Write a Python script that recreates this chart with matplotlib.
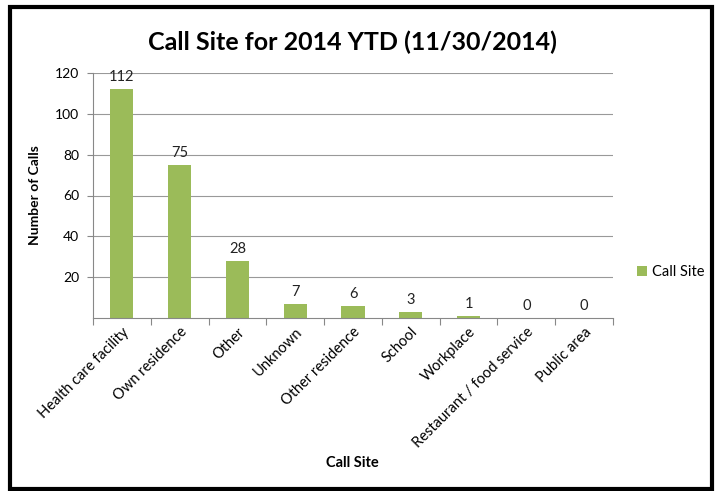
import matplotlib.pyplot as plt
import numpy as np
from matplotlib.patches import Rectangle

# chart data
sites = ['Health care facility', 'Own residence', 'Other', 'Unknown',
         'Other residence', 'School', 'Workplace',
         'Restaurant / food service', 'Public area']
calls = [112, 75, 28, 7, 6, 3, 1, 0, 0]
y_ticks = [20, 40, 60, 80, 100, 120]

plt.rcParams['font.family'] = ['Lato', 'DejaVu Sans']

fig = plt.figure(figsize=(7.17, 4.91), dpi=100)
ax = fig.add_axes([93 / 717, 1 - 318 / 491, 520 / 717, 245 / 491])

x = np.arange(len(sites))
bars = ax.bar(x, calls, width=0.4, color='#9BBB59', label='Call Site', zorder=2)

for b, v in zip(bars, calls):
    ax.text(b.get_x() + b.get_width() / 2, v + 2.5, str(v), ha='center',
            va='bottom', fontsize=10.5, color='#222222')

ax.set_xlim(-0.5, len(sites) - 0.5)
ax.set_ylim(0, 120)
ax.set_yticks(y_ticks)
ax.tick_params(axis='y', labelsize=10, length=4, color='#888888', pad=6)
ax.yaxis.grid(True, color='#999999', linewidth=0.8, zorder=0)

# category ticks sit between the bars
ax.set_xticks(np.arange(len(sites) + 1) - 0.5, minor=False)
ax.set_xticklabels([])
ax.tick_params(axis='x', length=5, color='#888888')
ax.set_xticks(x, minor=True)
ax.set_xticklabels(sites, minor=True, rotation=45, ha='right',
                   rotation_mode='anchor', fontsize=10.5)
ax.tick_params(axis='x', which='minor', length=0, pad=5)

for s in ['top', 'right']:
    ax.spines[s].set_visible(False)
ax.spines['left'].set_color('#888888')
ax.spines['bottom'].set_color('#888888')

ax.set_ylabel('Number of Calls', fontsize=10, fontweight='bold', labelpad=10)
fig.text(352 / 717, 1 - 463 / 491, 'Call Site', ha='center', va='center',
         fontsize=10.5, fontweight='bold')
fig.text(352 / 717, 1 - 42 / 491, 'Call Site for 2014 YTD (11/30/2014)',
         ha='center', va='center', fontsize=18, fontweight='bold')

fig.legend(loc='center left', bbox_to_anchor=(624 / 717, 1 - 272 / 491),
           frameon=False, fontsize=10.5, handlelength=0.7, handleheight=0.7,
           handletextpad=0.3)

# outer frame
fig.patches.append(Rectangle((10 / 717, 1 - 489 / 491), 702 / 717, 482 / 491,
                             transform=fig.transFigure, fill=False,
                             edgecolor='black', linewidth=3))

fig.savefig('out.png', dpi=100)
